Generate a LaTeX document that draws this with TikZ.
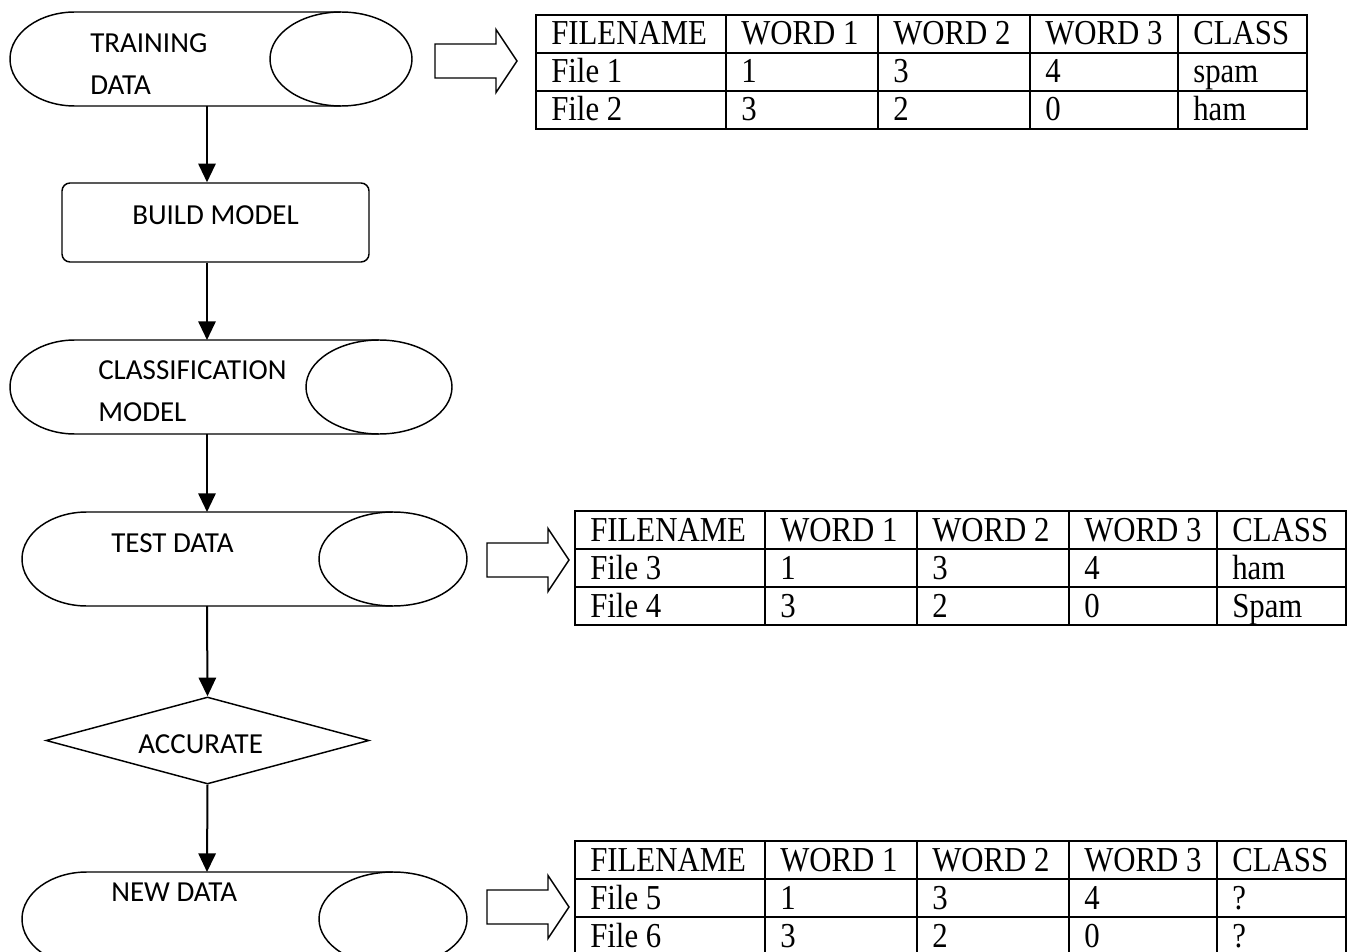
\documentclass[tikz,border=0pt]{standalone}
\usepackage{fontspec}
\newfontfamily\calfont{Carlito}
\newfontfamily\tabfont[FakeStretch=0.88]{Liberation Serif}
\usetikzlibrary{arrows.meta,shapes.geometric}

\tikzset{
  flow/.style={line width=1.1pt},
  link/.style={line width=1.5pt, -{Triangle[length=14pt,width=13pt]}},
  lbl/.style={font=\calfont\fontsize{21.75}{31.5}\selectfont, inner sep=0pt, anchor=base west},
  cell/.style={font=\tabfont\fontsize{26.25}{30}\selectfont, inner sep=0pt, anchor=base west},
  grid/.style={line width=1.4pt},
  hollow/.style={line width=1.1pt, line join=miter}
}

% stored data shape: #1 name, #2 left, #3 right, #4 top, #5 ellipse x radius
\newcommand{\storeddata}[5]{%
  \draw[flow] ({#3-#5},#4) -- ({#2+65},#4)
    arc[start angle=270, end angle=90, x radius=65, y radius=47] -- ({#3-#5},#4+94);
  \draw[flow] ({#3-#5},#4+47) ellipse[x radius=#5, y radius=47];
  \coordinate (#1-in) at (207,#4);
  \coordinate (#1-out) at (207,#4+94);
}

% block arrow: #1 tip x, #2 tip y, #3 tail x
\newcommand{\hollowarrow}[3]{%
  \draw[hollow] (#3,#2-17) -- ({#1-21},#2-17) -- ({#1-21},#2-31.5) -- (#1,#2)
    -- ({#1-21},#2+31.5) -- ({#1-21},#2+17) -- (#3,#2+17) -- cycle;
}

% word count table: #1 name, #2 left, #3 top, #4 first row, #5 second row
\newcommand{\wordtable}[5]{%
  \draw[grid] (#2,#3) rectangle ++(771,114);
  \foreach \dy in {38,76}
    \draw[grid] (#2,#3+\dy) -- ++(771,0);
  \foreach \dx in {190,342,494,642}
    \draw[grid] (#2+\dx,#3) -- ++(0,114);
  \foreach \row [count=\r from 0] in {{FILENAME,WORD 1,WORD 2,WORD 3,CLASS},{#4},{#5}}
    \foreach \txt [count=\c from 0] in \row {
      \pgfmathsetmacro\cx{{0,190,342,494,642}[\c]}
      \node[cell] (#1-\r-\c) at (#2+\cx+15,#3+38*\r+30) {\txt};
    }
}

\begin{document}
\begin{tikzpicture}[x=0.75pt, y=-0.75pt]
\useasboundingbox (0,0) rectangle (1353,952);

% Training data
\storeddata{train}{10}{412}{12}{71}
\node[lbl, align=left, anchor=north west] (trainlbl) at (90,33) {TRAINING\\DATA};
\hollowarrow{517}{61}{435}
\wordtable{traintab}{536}{15}{File 1,1,3,4,spam}{File 2,3,2,0,ham}

% Build model
\node[flow, draw, rounded corners=6pt, minimum width=230.25pt, minimum height=59.25pt, inner sep=0pt] (build) at (215.5,222.5) {};
\node[lbl] (buildlbl) at (132,225) {BUILD MODEL};

% Classification model
\storeddata{class}{10}{452}{340}{73}
\node[lbl, align=left, anchor=north west] (classlbl) at (98,360) {CLASSIFICATION\\MODEL};

% Test data
\storeddata{test}{22}{467}{512}{74}
\node[lbl] (testlbl) at (111,552) {TEST DATA};
\hollowarrow{569}{560}{487}
\wordtable{testtab}{575}{511}{File 3,1,3,4,ham}{File 4,3,2,0,Spam}

% Accuracy check
\node[flow, draw, diamond, minimum width=242.25pt, minimum height=65.25pt, inner sep=0pt] (acc) at (207.5,740.5) {};
\node[lbl] (acclbl) at (138,753) {ACCURATE};

% New data
\storeddata{new}{22}{467}{872}{74}
\node[lbl] (newlbl) at (111,901) {NEW DATA};
\hollowarrow{569}{907}{487}
\wordtable{newtab}{575}{841}{File 5,1,3,4,?}{File 6,3,2,0,?}

% Flow
\draw[link] (train-out) -- (build.north -| train-out);
\draw[link] (build.south -| train-out) -- (class-in);
\draw[link] (class-out) -- (test-in);
\draw[link] (test-out) -- (acc.north);
\draw[link] (acc.south) -- (new-in);
\end{tikzpicture}
\end{document}
